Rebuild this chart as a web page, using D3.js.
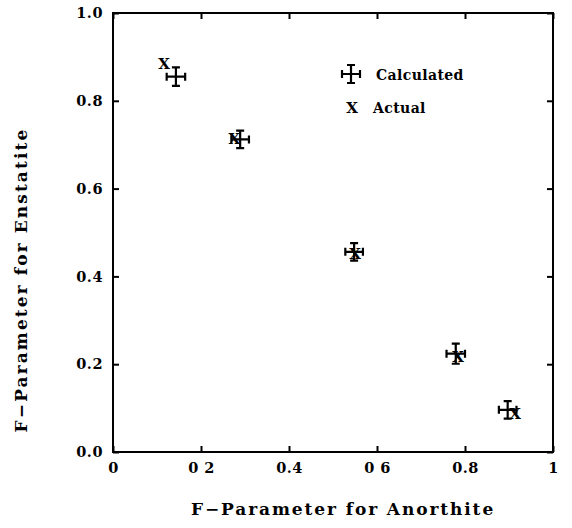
<!DOCTYPE html>
<html><head><meta charset="utf-8">
<script src="https://cdn.jsdelivr.net/npm/d3@7"></script>
<style>body{margin:0;background:#fff}svg{display:block}</style>
</head><body>
<svg id="c" width="572" height="528"></svg>
<script>
const xTickValues = [0, 0.2, 0.4, 0.6, 0.8, 1.0];
const xTickLabels = ["0", "0 2", "0.4", "0 6", "0.8", "1"];
const yTickValues = [0, 0.2, 0.4, 0.6, 0.8, 1.0];
const yTickLabels = ["0.0", "0.2", "0.4", "0.6", "0.8", "1.0"];
const calcX = [0.143, 0.289, 0.548, 0.779, 0.897];
const calcY = [0.855, 0.712, 0.456, 0.224, 0.096];
const calcXErr = [0.021, 0.020, 0.020, 0.021, 0.020];
const calcYErr = [0.021, 0.020, 0.020, 0.023, 0.020];
const actX = [0.116, 0.276, 0.550, 0.784, 0.914];
const actY = [0.884, 0.712, 0.450, 0.216, 0.086];
const legendLabels = ["Calculated", "Actual"];
const xTitle = "F\u2212Parameter for Anorthite";
const yTitle = "F\u2212Parameter for Enstatite";

const svg = d3.select("#c");
const L = 113, R = 553, T = 13, B = 452;
const x = d3.scaleLinear().domain([0, 1]).range([L, R]);
const y = d3.scaleLinear().domain([0, 1]).range([B, T]);
const font = "'DejaVu Serif', serif";

// frame
svg.append("rect").attr("x", L).attr("y", T).attr("width", R - L).attr("height", B - T)
  .attr("fill", "none").attr("stroke", "#000").attr("stroke-width", 2);

// inward ticks on all sides
const tk = 6;
const gx = svg.append("g").attr("transform", `translate(0,${B})`)
  .call(d3.axisBottom(x).tickValues(xTickValues).tickSizeInner(-tk).tickSizeOuter(0).tickPadding(9)
    .tickFormat((d, i) => xTickLabels[i]));
const gy = svg.append("g").attr("transform", `translate(${L},0)`)
  .call(d3.axisLeft(y).tickValues(yTickValues).tickSizeInner(-tk).tickSizeOuter(0).tickPadding(10)
    .tickFormat((d, i) => yTickLabels[i]));
const gt = svg.append("g").attr("transform", `translate(0,${T})`)
  .call(d3.axisTop(x).tickValues(xTickValues).tickSizeInner(-tk).tickSizeOuter(0).tickFormat(""));
const gr = svg.append("g").attr("transform", `translate(${R},0)`)
  .call(d3.axisRight(y).tickValues(yTickValues).tickSizeInner(-tk).tickSizeOuter(0).tickFormat(""));
[gx, gy, gt, gr].forEach(g => {
  g.select(".domain").remove();
  g.selectAll(".tick line").attr("stroke", "#000").attr("stroke-width", 2);
  g.selectAll("text").attr("font-family", font).attr("font-weight", "bold")
    .attr("font-size", 14.5).attr("letter-spacing", 0.5).attr("fill", "#000");
});
gx.selectAll("text").attr("dy", "0.85em");

// error-bar symbol
function errSym(g, cx, cy, hx, hy) {
  const cap = 4;
  const p = d3.path();
  p.moveTo(cx - hx, cy); p.lineTo(cx + hx, cy);
  p.moveTo(cx - hx, cy - cap); p.lineTo(cx - hx, cy + cap);
  p.moveTo(cx + hx, cy - cap); p.lineTo(cx + hx, cy + cap);
  p.moveTo(cx, cy - hy); p.lineTo(cx, cy + hy);
  p.moveTo(cx - cap, cy - hy); p.lineTo(cx + cap, cy - hy);
  p.moveTo(cx - cap, cy + hy); p.lineTo(cx + cap, cy + hy);
  g.append("path").attr("d", p.toString()).attr("stroke", "#000").attr("stroke-width", 2.2).attr("fill", "none");
}

const calc = svg.append("g");
calcX.forEach((v, i) => {
  const cx = x(v), cy = y(calcY[i]);
  errSym(calc, cx, cy, x(v + calcXErr[i]) - cx, cy - y(calcY[i] + calcYErr[i]));
});

svg.append("g").selectAll("text").data(actX).join("text")
  .attr("x", d => x(d)).attr("y", (d, i) => y(actY[i]))
  .attr("text-anchor", "middle").attr("dominant-baseline", "central")
  .attr("font-family", font).attr("font-weight", "bold").attr("font-size", 15)
  .text("X");

// legend
const lg = svg.append("g");
errSym(lg, 351, 74, 9, 9);
lg.append("text").attr("x", 352).attr("y", 108).attr("text-anchor", "middle").attr("dominant-baseline", "central")
  .attr("font-family", font).attr("font-weight", "bold").attr("font-size", 15).text("X");
lg.selectAll("text.l").data(legendLabels).join("text").attr("class", "l")
  .attr("x", (d, i) => i === 0 ? 376 : 373).attr("y", (d, i) => i === 0 ? 75 : 108)
  .attr("dominant-baseline", "central")
  .attr("font-family", font).attr("font-weight", "bold").attr("font-size", 14).attr("letter-spacing", 0.4)
  .text(d => d);

// axis titles
svg.append("text").attr("x", 343).attr("y", 515).attr("text-anchor", "middle")
  .attr("font-family", font).attr("font-weight", "bold").attr("font-size", 17).attr("letter-spacing", 1.9)
  .text(xTitle);
svg.append("text").attr("transform", `translate(27,280) rotate(-90)`).attr("text-anchor", "middle")
  .attr("font-family", font).attr("font-weight", "bold").attr("font-size", 17).attr("letter-spacing", 2.1)
  .text(yTitle);
</script>
</body></html>
